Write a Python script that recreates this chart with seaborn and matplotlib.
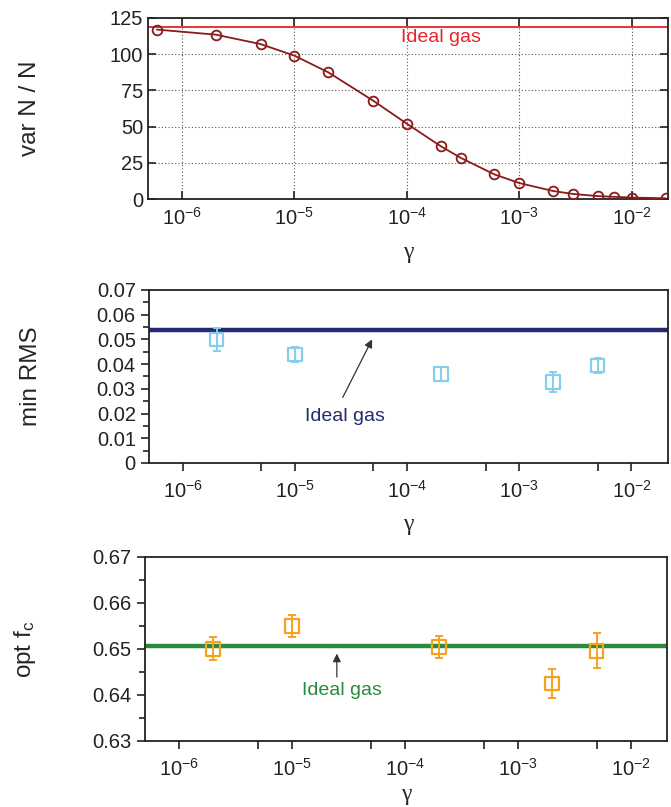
import numpy as np
import pandas as pd
import matplotlib
matplotlib.use('Agg')
import matplotlib.pyplot as plt
from matplotlib.ticker import FixedLocator, NullFormatter, MultipleLocator, FuncFormatter, FormatStrFormatter
import seaborn as sns

# top panel: var N / N vs gamma
gamma_var = [6e-7, 2e-6, 5e-6, 1e-5, 2e-5, 5e-5, 1e-4, 2e-4, 3e-4, 6e-4,
             1e-3, 2e-3, 3e-3, 5e-3, 7e-3, 1e-2, 2e-2]
var_n = [117, 113.5, 107, 99, 87.5, 68, 52, 36.5, 28.5, 17,
         11, 5.5, 3.5, 2, 1.5, 1, 0.5]
ideal_var = 118.5

# middle panel: min RMS
gamma_rms = [2e-6, 1e-5, 2e-4, 2e-3, 5e-3]
rms = [0.050, 0.0438, 0.0360, 0.0328, 0.0395]
rms_err = [0.0048, 0.0030, 0.0027, 0.0042, 0.0030]
ideal_rms = 0.054

# bottom panel: opt f_c
gamma_fc = [2e-6, 1e-5, 2e-4, 2e-3, 5e-3]
fc = [0.6500, 0.6550, 0.6504, 0.6425, 0.6496]
fc_err = [0.0025, 0.0023, 0.0024, 0.0032, 0.0038]
ideal_fc = 0.6507

sns.set_theme(style='ticks')
plt.rcParams['font.family'] = ['Liberation Sans', 'DejaVu Sans']
plt.rcParams['mathtext.fontset'] = 'custom'
plt.rcParams['mathtext.rm'] = 'Liberation Sans'
plt.rcParams['mathtext.it'] = 'Liberation Sans'

fig = plt.figure(figsize=(6.71, 8.07), dpi=100)
ax1 = fig.add_axes([0.2206, 0.7534, 0.7750, 0.2243])
ax2 = fig.add_axes([0.2220, 0.4263, 0.7730, 0.2144])
ax3 = fig.add_axes([0.2161, 0.0818, 0.7780, 0.2280])

xlim = (5e-7, 0.021)
decades = [1e-6, 1e-5, 1e-4, 1e-3, 1e-2]
declabels = [r'$10^{-6}$', r'$10^{-5}$', r'$10^{-4}$', r'$10^{-3}$', r'$10^{-2}$']
tick_fs = 14.5
label_fs = 17.5
text_col = '#222222'
gamma_font = dict(fontsize=17, family=['Liberation Serif', 'DejaVu Serif'])

# ---- top
df_var = pd.DataFrame({'gamma': gamma_var, 'var': var_n})
ax1.axhline(ideal_var, color='#e8232b', lw=1.3, zorder=1)
sns.lineplot(data=df_var, x='gamma', y='var', ax=ax1, color='#8b1a1a', lw=1.3,
             marker='o', markersize=7, markerfacecolor='none',
             markeredgecolor='#8b1a1a', markeredgewidth=1.3, zorder=3)
ax1.set_xscale('log')
ax1.set_xlim(*xlim)
ax1.set_ylim(0, 125)
ax1.xaxis.set_major_locator(FixedLocator(decades))
ax1.set_xticklabels(declabels)
ax1.xaxis.set_minor_locator(FixedLocator([]))
ax1.yaxis.set_major_locator(MultipleLocator(25))
ax1.grid(True, which='major', ls=(0, (1, 2)), color='#555555', lw=0.8)
ax1.tick_params(direction='in', length=6, width=1.2, top=True, right=True,
                labelsize=tick_fs, colors=text_col)
ax1.tick_params(axis='x', pad=6)
ax1.text(2e-4, 111.5, 'Ideal gas', color='#e8232b', fontsize=14, ha='center', va='center')
ax1.set_ylabel('var N / N', fontsize=label_fs)
ax1.set_xlabel('γ', labelpad=9, **gamma_font)

# ---- middle
ax2.axhline(ideal_rms, color='#232a6e', lw=3.2, zorder=1)
ax2.errorbar(gamma_rms, rms, yerr=rms_err, fmt='none', ecolor='#87cdee',
             elinewidth=1.4, capsize=3, capthick=1.4, zorder=2)
sns.scatterplot(x=gamma_rms, y=rms, ax=ax2, marker='s', s=95, color='none',
                edgecolor='#87cdee', linewidth=1.6, zorder=3)
ax2.set_xscale('log')
ax2.set_xlim(*xlim)
ax2.set_ylim(0, 0.07)
ax2.yaxis.set_major_locator(MultipleLocator(0.01))
ax2.yaxis.set_minor_locator(MultipleLocator(0.005))
ax2.yaxis.set_major_formatter(FuncFormatter(lambda v, p: '0' if abs(v) < 1e-9 else '%.2f' % v))
ax2.annotate('', xy=(5e-5, 0.051), xytext=(2.6e-5, 0.0255),
             arrowprops=dict(arrowstyle='-|>', color='#333333', lw=0.9, mutation_scale=12))
ax2.text(2.8e-5, 0.0190, 'Ideal gas', color='#232a6e', fontsize=14, ha='center', va='center')
ax2.set_ylabel('min RMS', fontsize=label_fs)
ax2.set_xlabel('γ', labelpad=9, **gamma_font)

# ---- bottom
ax3.axhline(ideal_fc, color='#2a8a3e', lw=3.2, zorder=1)
ax3.errorbar(gamma_fc, fc, yerr=fc_err, fmt='none', ecolor='#f5a21f',
             elinewidth=1.4, capsize=3, capthick=1.4, zorder=2)
sns.scatterplot(x=gamma_fc, y=fc, ax=ax3, marker='s', s=95, color='none',
                edgecolor='#f5a21f', linewidth=1.6, zorder=3)
ax3.set_xscale('log')
ax3.set_xlim(*xlim)
ax3.set_ylim(0.63, 0.67)
ax3.yaxis.set_major_locator(MultipleLocator(0.01))
ax3.yaxis.set_minor_locator(MultipleLocator(0.005))
ax3.yaxis.set_major_formatter(FormatStrFormatter('%.2f'))
ax3.annotate('', xy=(2.5e-5, 0.6496), xytext=(2.5e-5, 0.6433),
             arrowprops=dict(arrowstyle='-|>', color='#333333', lw=0.9, mutation_scale=12))
ax3.text(2.8e-5, 0.6410, 'Ideal gas', color='#2a8a3e', fontsize=14, ha='center', va='center')
ax3.set_ylabel(r'opt f$_\mathrm{c}$', fontsize=label_fs)
ax3.set_xlabel('γ', labelpad=3, **gamma_font)

for ax in (ax2, ax3):
    ax.xaxis.set_major_locator(FixedLocator(decades))
    ax.set_xticklabels(declabels)
    ax.xaxis.set_minor_locator(FixedLocator([5e-6, 5e-5, 5e-4, 5e-3]))
    ax.xaxis.set_minor_formatter(NullFormatter())
    ax.tick_params(which='major', direction='out', length=6, width=1.2,
                   labelsize=tick_fs, colors=text_col)
    ax.tick_params(which='minor', direction='out', length=6, width=1.2, colors=text_col)
    ax.tick_params(axis='y', which='minor', length=4)
    ax.tick_params(axis='x', pad=6)

ax1.yaxis.set_label_coords(-0.205, 0.5)
ax2.yaxis.set_label_coords(-0.207, 0.5)
ax3.yaxis.set_label_coords(-0.205, 0.5)

for ax in (ax1, ax2, ax3):
    for s in ax.spines.values():
        s.set_linewidth(1.3)
        s.set_color(text_col)

fig.savefig('out.png', dpi=100)
